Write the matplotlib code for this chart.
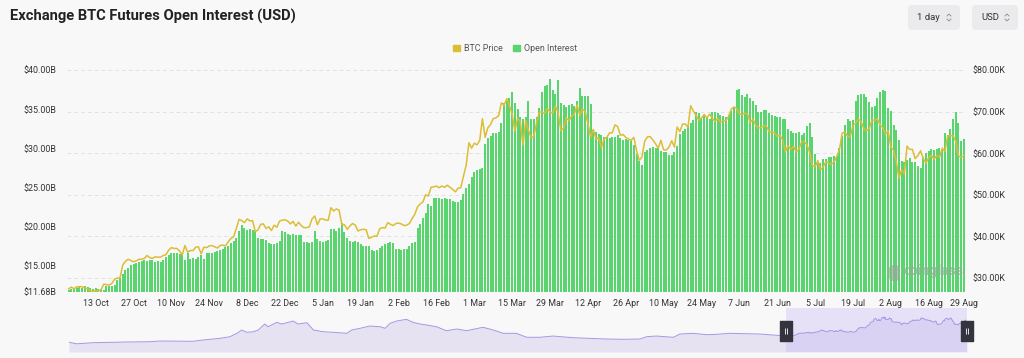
"""
Exchange BTC futures open interest (bars, left axis) vs BTC price (line, right axis),
with a small navigator strip underneath showing the longer OI history.
"""

import numpy as np
import pandas as pd
import matplotlib
matplotlib.use("Agg")
import matplotlib.pyplot as plt
import matplotlib.dates as mdates
from matplotlib.patches import FancyBboxPatch, Patch
from matplotlib.lines import Line2D
from matplotlib.path import Path
from matplotlib.transforms import blended_transform_factory

plt.rcParams["font.family"] = ["Roboto", "DejaVu Sans"]

BG = "#f8f8f8"
GREEN = "#5ad46e"
GOLD = "#dcbd36"
TXT = "#333333"
W, H = 1024, 358

# ---------------------------------------------------------------------------
# data: daily, 3 Oct 2023 - 29 Aug 2024
# ---------------------------------------------------------------------------
START, END = "2023-10-03", "2024-08-29"

# open interest, $B
oi_oct = [11.95, 12.1, 12.2, 12.25, 12.45, 12.2, 12.45, 12.3, 12.2, 12.1, 12.2, 12.0, 12.05,
          11.95, 12.4, 12.45, 12.5, 12.6, 13.2, 13.5, 14.0, 14.5, 14.8, 15.1, 15.3, 15.4,
          15.5, 15.6, 15.7]
oi_nov = [15.6, 15.8, 15.7, 15.5, 15.6, 15.5, 15.8, 16.2, 16.4, 16.6, 16.6, 16.6, 16.5,
          16.6, 15.8, 16.7, 15.9, 16.0, 15.9, 16.1, 16.4, 15.9, 16.6, 16.7, 16.7, 16.8,
          16.9, 17.0, 17.2, 17.4]
oi_dec = [17.6, 17.9, 18.2, 18.6, 19.4, 20.2, 19.8, 19.6, 19.7, 19.6, 19.5, 18.6, 18.4,
          18.5, 18.3, 17.9, 17.8, 17.8, 17.9, 18.2, 19.4, 19.3, 19.1, 19.0, 19.1, 19.0,
          18.9, 18.9, 18.1, 18.0, 17.9]
oi_jan = [18.0, 19.5, 18.4, 18.2, 18.1, 18.2, 18.3, 19.7, 19.7, 19.5, 19.9, 20.5, 19.3,
          18.6, 18.2, 18.1, 18.2, 18.0, 17.8, 17.6, 17.6, 17.5, 17.0, 16.9, 17.0, 17.3,
          17.6, 17.8, 17.9, 18.1, 17.9]
oi_feb = [17.2, 17.2, 17.1, 17.2, 17.2, 17.6, 17.9, 18.1, 19.8, 20.4, 21.1, 21.7, 22.9,
          22.6, 23.7, 23.7, 23.7, 23.6, 23.7, 23.6, 23.5, 23.3, 23.2, 23.2, 23.4, 24.2,
          25.0, 25.5, 26.4]
oi_mar = [27.0, 27.2, 27.4, 27.5, 30.6, 31.3, 31.6, 31.9, 32.0, 32.1, 33.2, 35.8, 36.0,
          36.4, 37.2, 35.8, 35.0, 34.0, 33.8, 34.0, 36.0, 33.8, 33.7, 34.0, 35.1, 37.2,
          37.9, 38.1, 38.9, 37.4, 37.0]
oi_apr = [38.7, 35.8, 35.5, 35.3, 35.5, 35.7, 35.4, 36.0, 37.7, 36.7, 36.7, 36.7, 35.7,
          32.3, 32.1, 31.8, 31.7, 31.5, 31.4, 31.3, 31.4, 31.5, 31.7, 31.3, 31.1, 31.2,
          31.1, 30.9, 30.4, 29.3]
oi_may = [28.4, 27.9, 29.5, 29.8, 30.0, 30.2, 30.1, 30.0, 29.7, 29.6, 29.5, 29.2, 29.2,
          29.6, 30.3, 31.8, 32.2, 32.5, 32.8, 33.2, 33.6, 34.7, 34.5, 33.9, 34.1, 34.0,
          33.8, 34.7, 34.7, 34.5, 34.3]
oi_jun = [34.1, 34.0, 34.3, 34.8, 35.3, 37.5, 37.6, 36.8, 36.6, 37.0, 36.4, 36.0, 35.5,
          34.6, 34.7, 34.9, 34.9, 34.5, 34.2, 34.1, 34.0, 34.0, 33.8, 33.7, 32.5, 32.2,
          32.0, 31.9, 32.1, 31.7]
oi_jul = [32.0, 32.8, 33.2, 31.5, 29.3, 28.3, 28.1, 28.6, 28.7, 28.9, 28.9, 29.0, 29.0,
          30.0, 31.6, 33.0, 33.7, 33.5, 33.6, 36.0, 36.8, 37.0, 37.0, 36.5, 35.9, 35.3,
          35.4, 36.4, 37.2, 37.4, 37.3]
oi_aug = [35.2, 34.8, 33.0, 32.3, 31.1, 28.4, 28.3, 28.5, 28.8, 28.3, 28.3, 27.8, 27.5,
          28.9, 29.4, 29.7, 29.9, 29.8, 29.9, 30.0, 29.8, 31.9, 31.7, 32.5, 33.8, 34.6,
          33.3, 31.0, 31.2]

# BTC price, $K
px_oct = [27.4, 27.8, 27.4, 27.9, 27.9, 27.9, 27.6, 27.4, 26.9, 26.8, 26.9, 26.9, 27.2,
          28.5, 28.4, 28.3, 28.7, 29.7, 30.0, 30.0, 33.1, 34.0, 34.5, 34.2, 33.9, 34.1,
          34.5, 34.5, 34.7]
px_nov = [35.4, 34.9, 34.7, 35.1, 35.0, 35.0, 35.4, 35.6, 36.7, 37.3, 37.1, 37.1, 36.5,
          35.5, 37.8, 36.2, 36.6, 36.6, 37.4, 37.5, 35.8, 37.4, 37.3, 37.7, 37.8, 37.5,
          37.2, 37.8, 37.9, 37.7]
px_dec = [38.7, 39.5, 39.9, 41.9, 44.1, 43.8, 43.3, 44.2, 43.7, 43.8, 41.2, 41.5, 42.9,
          43.0, 41.9, 42.3, 41.4, 42.7, 42.2, 43.7, 43.9, 44.0, 43.7, 43.0, 43.6, 42.5,
          43.4, 42.6, 42.1, 42.1, 42.3]
px_jan = [44.2, 44.9, 42.8, 44.2, 44.2, 43.9, 43.9, 46.9, 46.1, 46.6, 46.3, 42.9, 42.8,
          41.7, 42.5, 43.1, 42.7, 41.3, 41.6, 41.7, 41.6, 39.5, 39.8, 40.1, 40.0, 41.8,
          42.1, 42.0, 43.3, 42.9, 42.6]
px_feb = [43.1, 43.2, 43.0, 42.6, 42.7, 43.1, 44.3, 45.3, 47.1, 47.8, 48.3, 50.0, 49.7,
          51.8, 51.9, 52.1, 51.7, 52.1, 51.8, 52.3, 51.8, 51.3, 50.7, 51.6, 51.7, 54.5,
          57.1, 62.5, 61.2]
px_mar = [62.4, 62.0, 63.1, 68.3, 63.8, 66.1, 66.9, 68.3, 68.5, 69.0, 72.1, 71.5, 73.1,
          71.4, 69.4, 65.3, 68.4, 67.6, 61.9, 67.9, 65.5, 63.8, 64.0, 67.2, 69.9, 69.9,
          69.5, 70.7, 69.9, 69.6, 71.3]
px_apr = [69.7, 65.4, 66.0, 68.5, 67.8, 68.9, 69.4, 71.6, 69.1, 70.6, 70.0, 67.1, 63.9,
          65.7, 63.4, 63.8, 61.3, 63.5, 63.8, 64.9, 64.9, 66.8, 66.4, 64.3, 64.5, 63.8,
          63.4, 63.1, 63.8, 60.6]
px_may = [58.3, 59.1, 62.9, 63.9, 64.0, 63.2, 62.3, 61.2, 63.1, 60.8, 60.8, 61.5, 63.0,
          61.5, 66.3, 65.2, 67.0, 67.0, 66.3, 71.4, 70.1, 69.1, 67.9, 68.5, 69.3, 68.5,
          69.4, 68.4, 67.6, 68.4, 67.5]
px_jun = [67.8, 67.8, 68.8, 70.6, 71.1, 70.8, 69.4, 69.3, 69.6, 69.5, 67.3, 68.2, 66.8,
          66.0, 66.2, 66.6, 66.5, 65.2, 65.0, 64.9, 64.1, 64.3, 63.2, 60.3, 61.8, 60.9,
          61.6, 60.3, 60.9, 62.7]
px_jul = [62.8, 62.0, 60.2, 57.0, 56.7, 58.2, 55.9, 56.7, 58.0, 57.7, 57.3, 57.9, 59.2,
          60.8, 64.8, 65.1, 64.1, 63.9, 66.7, 67.2, 68.2, 67.6, 65.9, 65.4, 65.8, 68.0,
          67.9, 68.3, 66.8, 66.2, 64.6]
px_aug = [65.4, 61.5, 60.7, 58.1, 54.0, 56.0, 55.0, 61.7, 60.9, 60.9, 58.7, 59.4, 60.6,
          58.7, 57.6, 58.9, 59.5, 58.5, 59.5, 59.0, 61.2, 60.4, 64.1, 64.2, 64.2, 62.9,
          59.4, 59.0, 59.4]

# navigator: longer OI history before the window ($B, sparse samples)
nav_hist_dates = ["2020-03-01", "2020-03-15", "2020-04-14", "2020-06-14", "2020-07-27",
                  "2020-08-14", "2020-10-14", "2020-11-01", "2020-12-02", "2020-12-20",
                  "2021-01-02", "2021-01-11", "2021-01-20", "2021-02-01", "2021-02-10",
                  "2021-02-22", "2021-02-28", "2021-03-16", "2021-03-25", "2021-04-03",
                  "2021-04-15", "2021-04-24", "2021-05-10", "2021-05-22", "2021-06-09",
                  "2021-06-27", "2021-07-22", "2021-07-31", "2021-08-15", "2021-09-02",
                  "2021-09-21", "2021-09-30", "2021-10-09", "2021-10-21", "2021-11-08",
                  "2021-11-20", "2021-12-03", "2021-12-15", "2022-01-02", "2022-01-20",
                  "2022-02-08", "2022-02-26", "2022-03-10", "2022-03-28", "2022-04-16",
                  "2022-05-04", "2022-05-28", "2022-06-16", "2022-07-10", "2022-08-03",
                  "2022-09-09", "2022-10-09", "2022-11-09", "2022-12-09", "2023-01-09",
                  "2023-01-21", "2023-02-08", "2023-03-11", "2023-03-23", "2023-04-16",
                  "2023-05-11", "2023-05-29", "2023-06-22", "2023-07-23", "2023-08-16",
                  "2023-09-10", "2023-09-28"]
nav_hist_oi = [2.5, 0.3, 1.9, 2.9, 3.3, 4.3, 3.9, 5.8, 8.2, 10.5,
               15.4, 20.2, 16.9, 17.7, 20.2, 28.8, 24.9, 31.3, 28.8, 30.7,
               33.1, 28.8, 30.7, 20.2, 17.7, 16.9, 15.4, 20.2, 22.6, 25.9,
               24.9, 22.6, 29.8, 33.1, 35.6, 31.3, 28.8, 27.4, 24.9, 19.2,
               21.6, 19.2, 21.2, 24.1, 20.2, 15.4, 15.4, 9.7, 9.7, 11.5,
               9.1, 8.2, 7.2, 6.8, 7.2, 10.5, 11.5, 9.7, 14.4, 15.4,
               13.4, 14.0, 15.4, 14.9, 14.4, 12.9, 12.0]

oi_ticks = [11.68, 15, 20, 25, 30, 35, 40]
px_ticks = [30, 40, 50, 60, 70, 80]

dates = pd.date_range(START, END, freq="D")
oi = np.array(oi_oct + oi_nov + oi_dec + oi_jan + oi_feb + oi_mar +
              oi_apr + oi_may + oi_jun + oi_jul + oi_aug)
price = np.array(px_oct + px_nov + px_dec + px_jan + px_feb + px_mar +
                 px_apr + px_may + px_jun + px_jul + px_aug)
x = mdates.date2num(dates)


def fig_box(left, top, width, height):
    """pixel box (from top-left) -> figure fraction rect"""
    return [left / W, 1 - (top + height) / H, width / W, height / H]


fig = plt.figure(figsize=(W / 100, H / 100), dpi=100)
fig.patch.set_facecolor(BG)

# grid / right-axis layer (behind), bars (middle), price line (top)
rect = fig_box(67, 70, 899, 222)
axg = fig.add_axes(rect)
ax = fig.add_axes(rect, sharex=axg)
axl = fig.add_axes(rect, sharex=axg)
for a in (axg, ax, axl):
    for s in a.spines.values():
        s.set_visible(False)
axg.set_facecolor(BG)
ax.patch.set_visible(False)
axl.patch.set_visible(False)

ax.bar(x, oi, width=0.74, color=GREEN, linewidth=0)
ax.set_ylim(oi_ticks[0], 40)
ax.set_yticks(oi_ticks)
ax.set_yticklabels([f"${v:.2f}B" for v in oi_ticks])
ax.tick_params(axis="y", length=0, pad=8, labelsize=6.4, labelcolor=TXT)

axg.set_ylim(26.63, 80)
axg.set_yticks(px_ticks)
axg.yaxis.tick_right()
axg.set_yticklabels([f"${v:.2f}K" for v in px_ticks])
axg.tick_params(axis="y", length=0, pad=5, labelsize=6.4, labelcolor=TXT)
axg.yaxis.grid(True, color="#e2e2e2", lw=0.7, ls=(0, (4, 3)))
axg.tick_params(axis="x", bottom=False, labelbottom=False)

axl.plot(x, price, color=GOLD, lw=1.1, solid_joinstyle="round")
axl.set_ylim(26.63, 80)
axl.set_yticks([])
axl.tick_params(axis="x", bottom=False, labelbottom=False)

tick_idx = list(range(10, len(dates), 14))
if tick_idx[-1] != len(dates) - 1:
    tick_idx.append(len(dates) - 1)
ax.set_xticks(x[tick_idx])
ax.set_xticklabels([f"{dates[i].day} {dates[i].strftime('%b')}" for i in tick_idx])
ax.tick_params(axis="x", length=0, pad=5, labelsize=6.4, labelcolor=TXT)
ax.set_xlim(x[0] - 0.6, x[-1] + 0.8)

# title, legend, controls
fig.text(10 / W, 1 - 16 / H, "Exchange BTC Futures Open Interest (USD)",
         fontsize=10.6, fontweight="bold", color="#222222", va="center", ha="left")
fig.legend(handles=[Patch(color=GOLD), Patch(color=GREEN)],
           labels=["BTC Price", "Open Interest"], loc="center",
           bbox_to_anchor=(515 / W, 1 - 48.5 / H), ncol=2, frameon=False,
           fontsize=6.4, handlelength=0.75, handleheight=0.75,
           handletextpad=0.45, columnspacing=1.2, labelcolor="#555555")

for (bx, bw, label) in [(908, 52, "1 day"), (972, 46, "USD")]:
    fig.patches.append(FancyBboxPatch((bx / W, 1 - 30 / H), bw / W, 25 / H,
                                      boxstyle="round,pad=0,rounding_size=0.004",
                                      mutation_aspect=W / H, transform=fig.transFigure,
                                      facecolor="#ebebed", edgecolor="none"))
    fig.text((bx + 9) / W, 1 - 17.5 / H, label, fontsize=6.8, color=TXT,
             va="center", ha="left")
    cx = bx + bw - 11
    for sgn in (1, -1):
        yy = 17.5 - sgn * 1.5
        fig.add_artist(Line2D([(cx - 2) / W, cx / W, (cx + 2) / W],
                              [1 - yy / H, 1 - (yy - sgn * 2) / H, 1 - yy / H],
                              transform=fig.transFigure, color="#888888", lw=0.6))

# watermark
fig.text(933 / W, 1 - 271 / H, "coinglass", fontsize=10, fontweight="bold",
         color="#9aa89c", alpha=0.75, ha="center", va="center")
fig.patches.append(FancyBboxPatch((889 / W, 1 - 281 / H), 11 / W, 16 / H,
                                  boxstyle="round,pad=0,rounding_size=0.004",
                                  mutation_aspect=W / H, transform=fig.transFigure,
                                  facecolor="#9aa89c", alpha=0.65, edgecolor="none"))

# navigator
axn = fig.add_axes(fig_box(69, 308, 898, 44))
axn.set_facecolor(BG)
for s in axn.spines.values():
    s.set_visible(False)
axn.set_xticks([])
axn.set_yticks([])
nav_x = np.concatenate([mdates.date2num(pd.to_datetime(nav_hist_dates)), x])
nav_v = np.concatenate([nav_hist_oi, oi])
nav_lo = -11.5
axn.fill_between(nav_x, nav_v, nav_lo, color="#e6e2f2", lw=0)
axn.plot(nav_x, nav_v, color="#a497e4", lw=0.7)
axn.set_ylim(nav_lo, 51.9)
axn.set_xlim(nav_x[0], x[-1])
axn.axvspan(x[0], x[-1], color="#c3b4f6", alpha=0.33, lw=0)

trans = blended_transform_factory(axn.transData, axn.transAxes)
handle = [(-0.32, -0.5), (0.32, -0.5), (0.32, 0.5), (-0.32, 0.5), (-0.32, -0.5)]
grip = Path([(-0.25, -1), (-0.25, 1), (0.25, -1), (0.25, 1)],
            [Path.MOVETO, Path.LINETO, Path.MOVETO, Path.LINETO])
for hx in (x[0], x[-1]):
    axn.plot([hx], [0.48], transform=trans, marker=handle, markersize=14,
             color="#34343f", clip_on=False, zorder=5)
    axn.plot([hx], [0.48], transform=trans, marker=grip, markersize=4,
             markeredgecolor="white", markeredgewidth=0.6, clip_on=False, zorder=6)

fig.savefig("out.png", dpi=100, facecolor=BG)
